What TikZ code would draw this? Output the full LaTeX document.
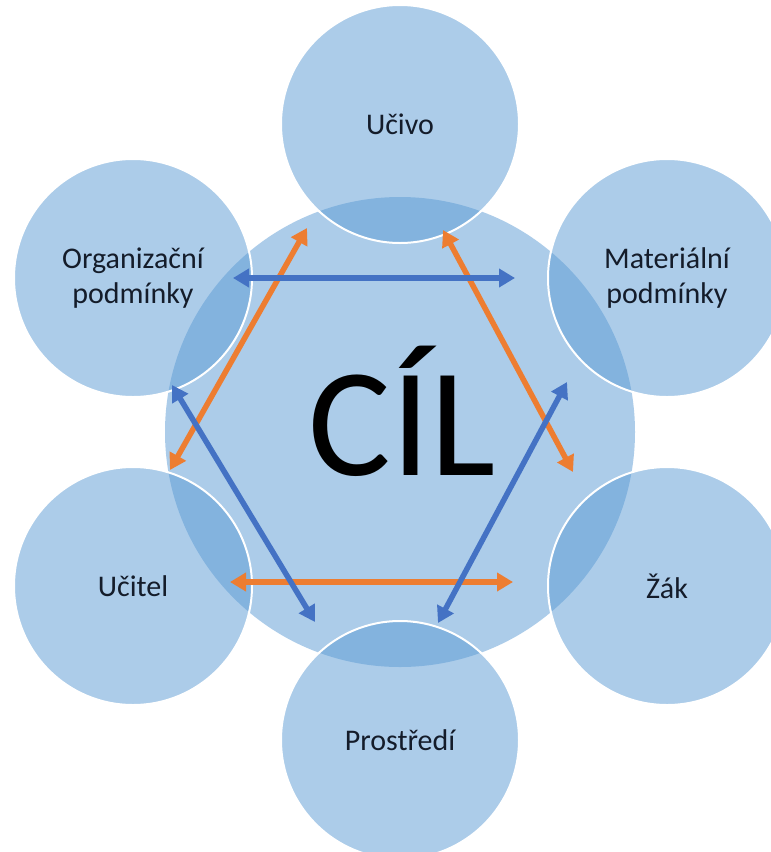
\documentclass[tikz,border=0pt]{standalone}
\usepackage{fontspec}
\setmainfont{Carlito}
\usetikzlibrary{arrows.meta}
\definecolor{fillblue}{HTML}{5B9BD5}
\definecolor{arrblue}{HTML}{4472C4}
\definecolor{arrorange}{HTML}{ED7D31}
\definecolor{txt}{HTML}{141C2A}
\begin{document}
\begin{tikzpicture}[x=1pt,y=-1pt,
  bub/.style={circle, minimum size=238pt, inner sep=0pt, fill=fillblue, fill opacity=0.5, draw=white, draw opacity=1, line width=2pt, text opacity=1, text=txt, align=center, font=\fontsize{30}{35}\selectfont},
  core/.style={circle, minimum size=470pt, inner sep=0pt, fill=fillblue, fill opacity=0.5},
  bigtext/.style={font=\fontsize{155}{160}\selectfont, text=black, anchor=base, inner sep=0pt},
  link/.style={{Triangle[length=16pt,width=18pt]}-{Triangle[length=16pt,width=18pt]}, line width=5.5pt},
]
\fill[white] (0,0) rectangle (771,852);
\useasboundingbox (0,0) rectangle (771,852);

\node[core] (cil) at (400,432) {};

\node[bub] (ucivo) at (400,124) {Učivo};
\node[bub] (org) at (133,278) {Organizační\\podmínky};
\node[bub] (mat) at (667,278) {Materiální\\podmínky};
\node[bub] (ucitel) at (133,586) {Učitel};
\node[bub] (zak) at (667,586) {Žák};
\node[bub] (prost) at (400,740) {Prostředí};

\node[bigtext] (ciltext) at (402,475) {CÍL};

\coordinate (b1a) at (233,278); \coordinate (b1b) at (515,278);
\coordinate (o1a) at (170,470); \coordinate (o1b) at (307,228);
\coordinate (o2a) at (443,230); \coordinate (o2b) at (573,472);
\coordinate (o3a) at (230,582); \coordinate (o3b) at (513,582);
\coordinate (b2a) at (172,385); \coordinate (b2b) at (315,622);
\coordinate (b3a) at (567,382); \coordinate (b3b) at (438,623);

\draw[link, arrorange] (o1a) -- (o1b);
\draw[link, arrorange] (o2a) -- (o2b);
\draw[link, arrorange] (o3a) -- (o3b);
\draw[link, arrblue] (b1a) -- (b1b);
\draw[link, arrblue] (b2a) -- (b2b);
\draw[link, arrblue] (b3a) -- (b3b);
\end{tikzpicture}
\end{document}
